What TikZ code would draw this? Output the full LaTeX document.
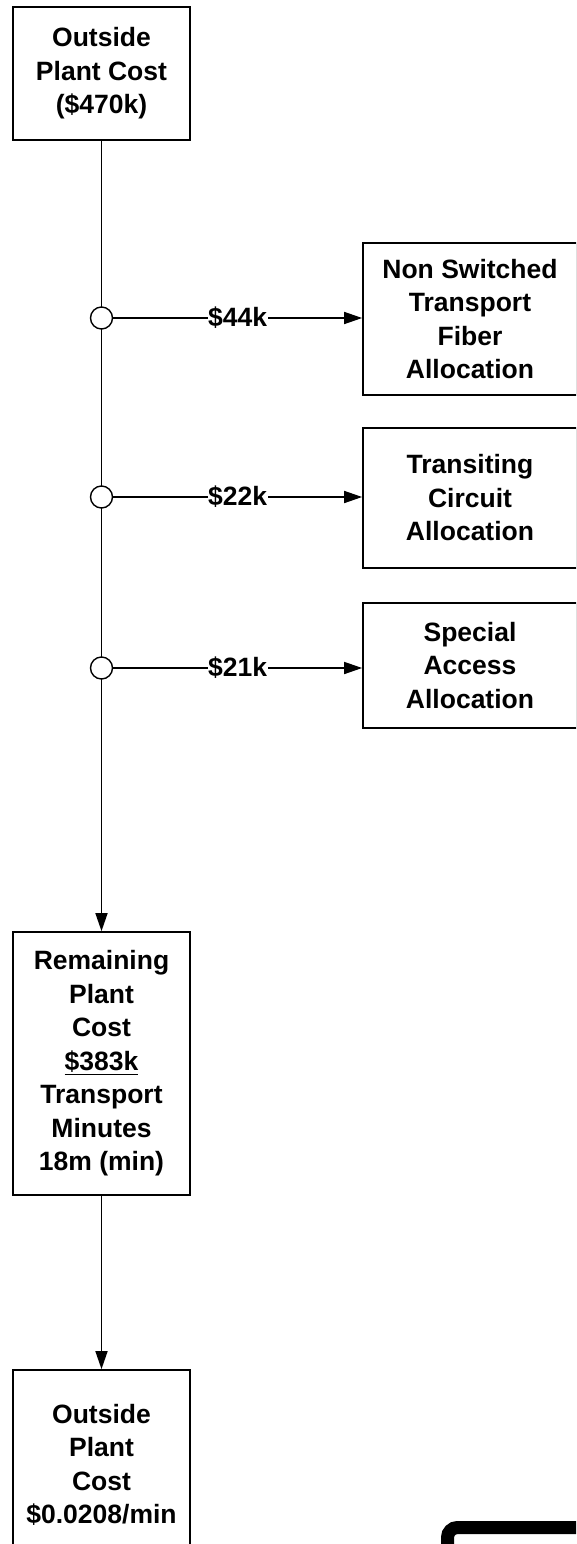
\documentclass[tikz,border=0pt]{standalone}
\usepackage{fontspec}
\setmainfont{Liberation Sans}
\usetikzlibrary{arrows.meta}
\begin{document}
\begin{tikzpicture}[x=1pt,y=-1pt,
  box/.style={draw,line width=1.7pt,align=center,inner sep=0pt,font=\bfseries\fontsize{26.5}{33.5}\selectfont},
  junc/.style={circle,draw,fill=white,line width=1.4pt,minimum size=22pt,inner sep=0pt},
  conn/.style={line width=1.6pt,-{Triangle[length=18pt,width=12pt]}},
  amt/.style={fill=white,inner sep=0.5pt,font=\bfseries\fontsize{26.5}{30}\selectfont}]
\useasboundingbox (0,0) rectangle (576,1544);
\clip (0,0) rectangle (576,1544);
% boxes
\node[box,minimum width=177pt,minimum height=133pt] (opc) at (101.5,73.5) {Outside\\Plant Cost\\(\$470k)};
\node[box,minimum width=214pt,minimum height=152pt] (nsf) at (470,319) {Non Switched\\Transport\\Fiber\\Allocation};
\node[box,minimum width=214pt,minimum height=140pt] (tca) at (470,498) {Transiting\\Circuit\\Allocation};
\node[box,minimum width=214pt,minimum height=125pt] (saa) at (470,665.5) {Special\\Access\\Allocation};
\node[box,minimum width=177pt,minimum height=263pt] (rem) at (101.5,1063.5) {Remaining\\Plant\\Cost\\\underline{\$383k}\\Transport\\Minutes\\18m (min)};
\node[box,minimum width=177pt,minimum height=190pt] (opm) at (101.5,1465) {Outside\\Plant\\Cost\\\$0.0208/min};
% trunk
\draw[conn] (opc.south) -- (rem.north);
\draw[conn] (rem.south) -- (opm.north);
% junctions
\node[junc] (j1) at (101.5,318) {};
\node[junc] (j2) at (101.5,497) {};
\node[junc] (j3) at (101.5,668) {};
% branches
\draw[conn] (j1.east) -- node[amt] {\$44k} (nsf.west |- j1.east);
\draw[conn] (j2.east) -- node[amt] {\$22k} (tca.west |- j2.east);
\draw[conn] (j3.east) -- node[amt] {\$21k} (saa.west |- j3.east);
% corner mark
\draw[line width=13pt,rounded corners=10pt] (447.5,1600) -- (447.5,1527.5) -- (620,1527.5);
\end{tikzpicture}
\end{document}
